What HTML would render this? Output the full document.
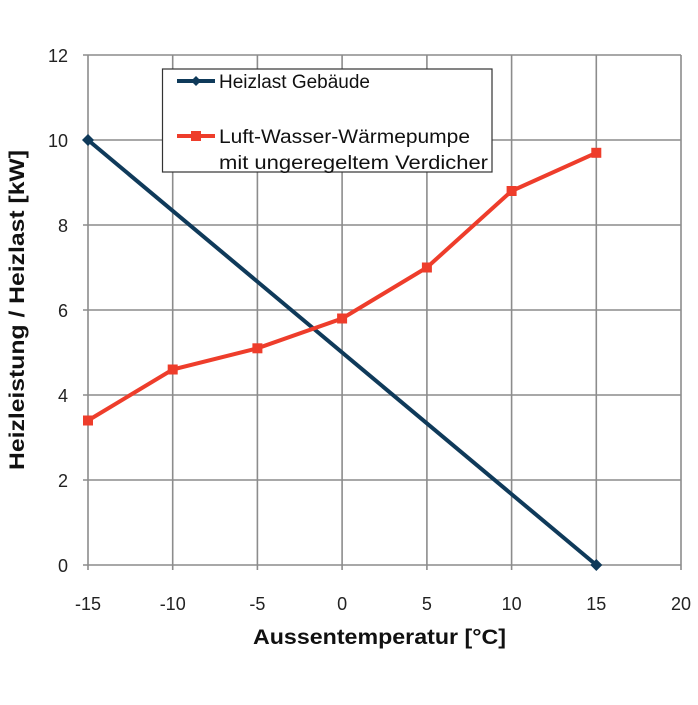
<!DOCTYPE html>
<html><head><meta charset="utf-8"><style>
html,body{margin:0;padding:0;background:#fff;}
svg{display:block;font-family:"Liberation Sans",sans-serif;}
</style></head><body>
<svg width="698" height="705" viewBox="0 0 698 705" xmlns="http://www.w3.org/2000/svg">
<g stroke="#8c8c8c" stroke-width="1.6">
<line x1="83" y1="55" x2="681" y2="55"/>
<line x1="83" y1="140" x2="681" y2="140"/>
<line x1="83" y1="225" x2="681" y2="225"/>
<line x1="83" y1="310" x2="681" y2="310"/>
<line x1="83" y1="395" x2="681" y2="395"/>
<line x1="83" y1="480" x2="681" y2="480"/>
<line x1="83" y1="565" x2="681" y2="565"/>
<line x1="88" y1="55" x2="88" y2="570"/>
<line x1="172.7" y1="55" x2="172.7" y2="570"/>
<line x1="257.4" y1="55" x2="257.4" y2="570"/>
<line x1="342.1" y1="55" x2="342.1" y2="570"/>
<line x1="426.9" y1="55" x2="426.9" y2="570"/>
<line x1="511.6" y1="55" x2="511.6" y2="570"/>
<line x1="596.3" y1="55" x2="596.3" y2="570"/>
<line x1="681" y1="55" x2="681" y2="570"/>
</g>
<g font-size="18" fill="#222" text-anchor="end">
<text x="68" y="62">12</text><text x="68" y="147">10</text><text x="68" y="232">8</text>
<text x="68" y="317">6</text><text x="68" y="402">4</text><text x="68" y="487">2</text><text x="68" y="572">0</text>
</g>
<g font-size="18" fill="#222" text-anchor="middle">
<text x="88" y="610">-15</text><text x="172.7" y="610">-10</text><text x="257.4" y="610">-5</text>
<text x="342.1" y="610">0</text><text x="426.9" y="610">5</text><text x="511.6" y="610">10</text>
<text x="596.3" y="610">15</text><text x="681" y="610">20</text>
</g>
<text x="253" y="644" font-size="21" font-weight="bold" fill="#111" textLength="253" lengthAdjust="spacingAndGlyphs">Aussentemperatur [°C]</text>
<text transform="translate(24,470) rotate(-90)" font-size="21" font-weight="bold" fill="#111" textLength="320" lengthAdjust="spacingAndGlyphs">Heizleistung / Heizlast [kW]</text>
<polyline fill="none" stroke="#0f3a5a" stroke-width="4" points="88,140 596.3,565"/>
<polygon fill="#0f3a5a" points="88,134 94,140 88,146 82,140"/>
<polygon fill="#0f3a5a" points="596.3,559 602.3,565 596.3,571 590.3,565"/>
<polyline fill="none" stroke="#ee3d2b" stroke-width="4" points="88,420.5 172.7,369.5 257.4,348.3 342.1,318.5 426.9,267.5 511.6,191 596.3,152.8"/>
<g fill="#ee3d2b">
<rect x="83" y="415.5" width="10" height="10"/><rect x="167.7" y="364.5" width="10" height="10"/>
<rect x="252.4" y="343.3" width="10" height="10"/><rect x="337.1" y="313.5" width="10" height="10"/>
<rect x="421.9" y="262.5" width="10" height="10"/><rect x="506.6" y="186" width="10" height="10"/>
<rect x="591.3" y="147.8" width="10" height="10"/>
</g>
<rect x="162.5" y="69" width="329.5" height="103" fill="#fff" stroke="#333" stroke-width="1.2"/>
<line x1="177" y1="81" x2="215" y2="81" stroke="#0f3a5a" stroke-width="4"/>
<polygon fill="#0f3a5a" points="196,76 201,81 196,86 191,81"/>
<text x="219" y="88" font-size="19" fill="#111" textLength="151" lengthAdjust="spacingAndGlyphs">Heizlast Gebäude</text>
<line x1="177" y1="136" x2="215" y2="136" stroke="#ee3d2b" stroke-width="4"/>
<rect x="191" y="131" width="10" height="10" fill="#ee3d2b"/>
<text x="219" y="143" font-size="19" fill="#111" textLength="251" lengthAdjust="spacingAndGlyphs">Luft-Wasser-Wärmepumpe</text>
<text x="219" y="169" font-size="19" fill="#111" textLength="269" lengthAdjust="spacingAndGlyphs">mit ungeregeltem Verdicher</text>
</svg>
</body></html>
